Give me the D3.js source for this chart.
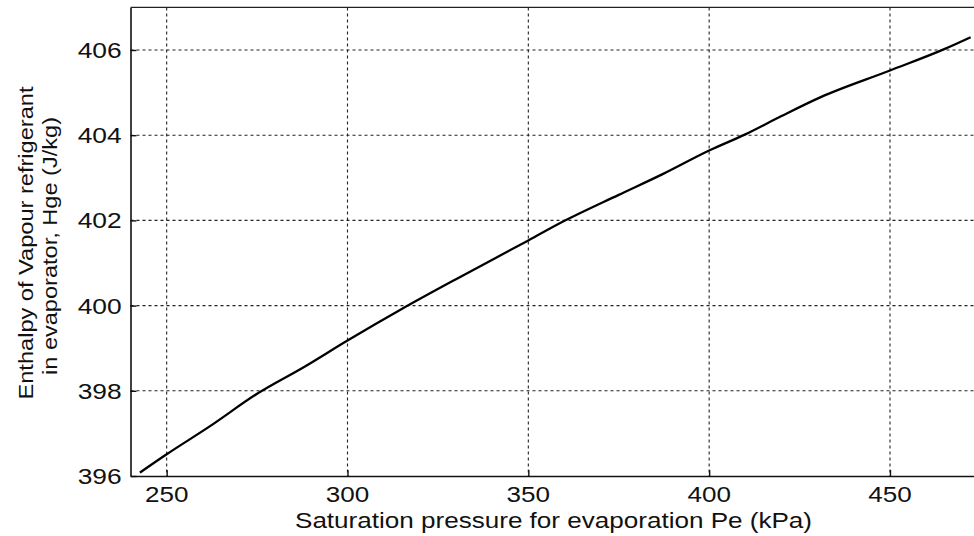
<!DOCTYPE html>
<html>
<head>
<meta charset="utf-8">
<script src="https://cdn.jsdelivr.net/npm/d3@7"></script>
<style>
  html, body { margin: 0; padding: 0; background: #fff; }
  svg { display: block; }
  text { font-family: "Liberation Sans", Arial, sans-serif; fill: #111; }
</style>
</head>
<body>
<script>
// ---- data ----
const pressure = [242.6, 250, 262, 275, 288, 300, 315, 330, 350, 360, 375, 387, 400, 410, 420, 431, 450, 465, 472.3];
const enthalpy = [396.08, 396.51, 397.17, 397.93, 398.56, 399.18, 399.92, 400.62, 401.53, 401.99, 402.6, 403.08, 403.64, 404.02, 404.45, 404.9, 405.52, 406.02, 406.3];
const xTicks = [250, 300, 350, 400, 450];
const yTicks = [396, 398, 400, 402, 404, 406];
const xTitle = "Saturation pressure for evaporation Pe (kPa)";
const yTitle = ["Enthalpy of Vapour refrigerant", "in evaporator, Hge (J/kg)"];

const W = 974, H = 536;
const L = 130.5, T = 7.4, B = 476;

const x = d3.scaleLinear().domain([240, 475]).range([L, 980.4]);
const y = d3.scaleLinear().domain([396, 407]).range([B, T]);

const svg = d3.select("body").append("svg").attr("width", W).attr("height", H);

// grid
const grid = svg.append("g");
grid.selectAll("line.v").data(xTicks).join("line")
  .attr("x1", d => x(d)).attr("x2", d => x(d))
  .attr("y1", T).attr("y2", B)
  .attr("stroke", "#222").attr("stroke-width", 1.1).attr("stroke-dasharray", "3,3");
grid.selectAll("line.h").data(yTicks.filter(d => d > 396)).join("line")
  .attr("x1", L).attr("x2", W)
  .attr("y1", d => y(d)).attr("y2", d => y(d))
  .attr("stroke", "#222").attr("stroke-width", 1.1).attr("stroke-dasharray", "3,3");

// axes (inward ticks)
const xAxis = svg.append("g").attr("transform", `translate(0,${B})`)
  .call(d3.axisBottom(x).tickValues(xTicks).tickSizeInner(-6).tickSizeOuter(0).tickFormat(""));
const yAxis = svg.append("g").attr("transform", `translate(${L},0)`)
  .call(d3.axisLeft(y).tickValues(yTicks).tickSizeInner(-6).tickSizeOuter(0).tickFormat(""));
[xAxis, yAxis].forEach(g => {
  g.select(".domain").attr("stroke", "#111").attr("stroke-width", 1.6);
  g.selectAll(".tick line").attr("stroke", "#111").attr("stroke-width", 1.4);
});
// top border
svg.append("line").attr("x1", L).attr("x2", W).attr("y1", T).attr("y2", T)
  .attr("stroke", "#222").attr("stroke-width", 1.4);

// tick labels
svg.append("g").selectAll("text").data(xTicks).join("text")
  .attr("x", d => x(d)).attr("y", 501.7)
  .attr("text-anchor", "middle").attr("font-size", 22)
  .attr("textLength", 43.5).attr("lengthAdjust", "spacingAndGlyphs")
  .text(d => d);
svg.append("g").selectAll("text").data(yTicks).join("text")
  .attr("x", 121.7).attr("y", d => y(d) + 7.9)
  .attr("text-anchor", "end").attr("font-size", 22)
  .attr("textLength", 44).attr("lengthAdjust", "spacingAndGlyphs")
  .text(d => d);

// axis titles
svg.append("text").attr("x", 553.5).attr("y", 528)
  .attr("text-anchor", "middle").attr("font-size", 22)
  .attr("textLength", 517).attr("lengthAdjust", "spacingAndGlyphs")
  .text(xTitle);
const yLens = [313, 258], yBase = [33, 57], yCen = [243, 246];
yTitle.forEach((t, i) => {
  svg.append("text")
    .attr("transform", `translate(${yBase[i]},${yCen[i]}) rotate(-90)`)
    .attr("text-anchor", "middle").attr("font-size", 20)
    .attr("textLength", yLens[i]).attr("lengthAdjust", "spacingAndGlyphs")
    .text(t);
});

// curve
const pts = pressure.map((p, i) => [p, enthalpy[i]]);
svg.append("path").datum(pts)
  .attr("fill", "none").attr("stroke", "#000").attr("stroke-width", 2.3)
  .attr("d", d3.line().x(d => x(d[0])).y(d => y(d[1])).curve(d3.curveMonotoneX));
</script>
</body>
</html>
